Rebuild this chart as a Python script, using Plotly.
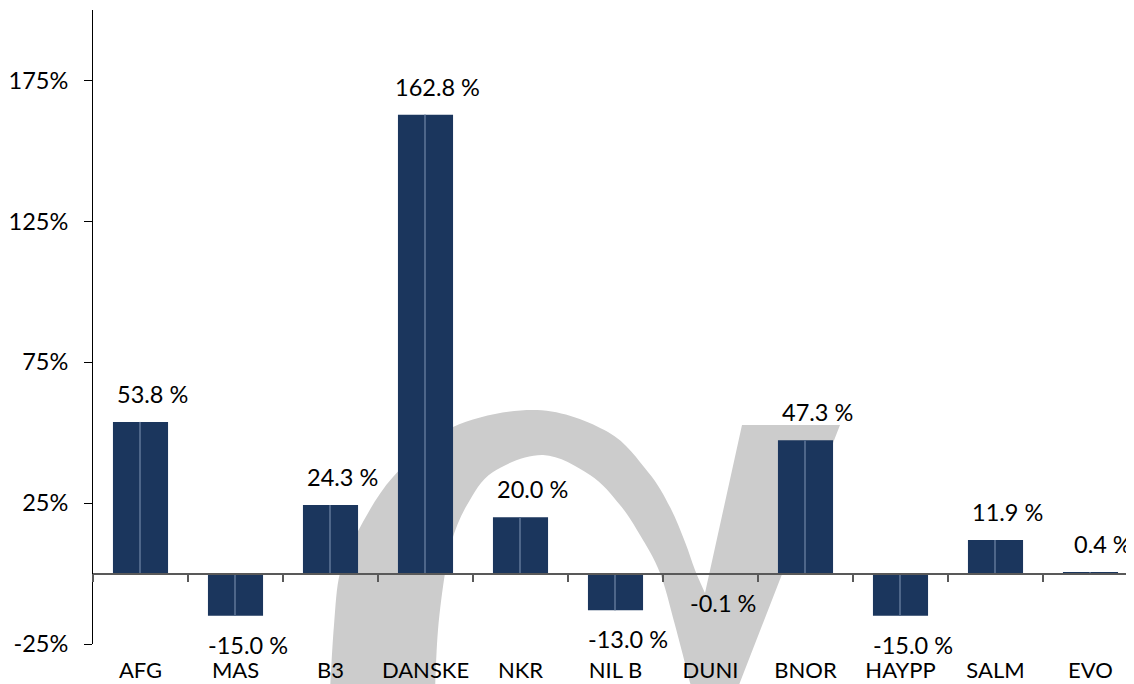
import plotly.graph_objects as go

# ---- data ----
categories = ["AFG", "MAS", "B3", "DANSKE", "NKR", "NIL B", "DUNI", "BNOR", "HAYPP", "SALM", "EVO"]
values = [53.8, -15.0, 24.3, 162.8, 20.0, -13.0, -0.1, 47.3, -15.0, 11.9, 0.4]
y_tick_values = [-25, 25, 75, 125, 175]
y_tick_labels = ["-25%", "25%", "75%", "125%", "175%"]

# page body adds an 8px offset; figure sized to fill the 1134x684 window
OFF = 8
W, H = 1134 - OFF, 684 - OFF
ML, MR, MT, MB = 93 - OFF, 0, 10 - OFF, 40
PW, PH = W - ML - MR, H - MT - MB
Y_MIN, Y_MAX = -25, 200
X_RANGE = [-0.5, -0.5 + PW / 95.0]

NAVY = "#1b365d"
SEAM = "#4e6689"
FONT = "Lato"

def px2paper(px, py):
    # px, py are window pixel positions
    return (px - OFF - ML) / PW, (H - MB - (py - OFF)) / PH

def smooth_path(pts, start=True):
    """Catmull-Rom through pts -> cubic bezier SVG commands (paper coords)."""
    P = [px2paper(*p) for p in pts]
    cmds = ["M %.5f %.5f" % P[0] if start else "L %.5f %.5f" % P[0]]
    for i in range(len(P) - 1):
        p0 = P[i - 1] if i > 0 else P[i]
        p1 = P[i]
        p2 = P[i + 1]
        p3 = P[i + 2] if i + 2 < len(P) else P[i + 1]
        c1 = (p1[0] + (p2[0] - p0[0]) / 6, p1[1] + (p2[1] - p0[1]) / 6)
        c2 = (p2[0] - (p3[0] - p1[0]) / 6, p2[1] - (p3[1] - p1[1]) / 6)
        cmds.append("C %.5f %.5f %.5f %.5f %.5f %.5f" % (c1 + c2 + p2))
    return " ".join(cmds)

# watermark logo outline (decorative, window pixel positions)
outer = [(330, 690), (334, 625), (340, 573), (357, 533), (393, 477), (453, 427),
         (537, 410), (608, 432), (648, 472), (670, 507), (685, 542), (695, 570), (705, 593)]
inner = [(692, 690), (675, 625), (660, 573), (640, 535), (620, 505), (590, 475),
         (543, 455), (493, 472), (467, 505), (452, 540), (445, 573), (438, 630), (435, 690)]
path = smooth_path(outer)
path += " L %.5f %.5f" % px2paper(742, 425)
path += " L %.5f %.5f" % px2paper(840, 425)
path += " L %.5f %.5f" % px2paper(737, 690)
path += " " + smooth_path(inner, start=False) + " Z"

fig = go.Figure()
fig.add_trace(go.Bar(x=categories, y=values, marker=dict(color=NAVY, line=dict(width=0)),
                     width=0.58, showlegend=False, hoverinfo="skip"))
fig.add_trace(go.Bar(x=categories, y=values, marker=dict(color=SEAM, line=dict(width=0)),
                     width=0.011, showlegend=False, hoverinfo="skip"))
# invisible trace to register the zero-line axis
fig.add_trace(go.Scatter(x=categories, y=[None] * len(categories), xaxis="x2",
                         mode="markers", showlegend=False, hoverinfo="skip"))

for c, v in zip(categories, values):
    fig.add_annotation(x=c, y=v, text=f"{v:.1f} %", showarrow=False,
                       xshift=12, yshift=28 if v >= 0 else -29, yanchor="middle",
                       font=dict(family=FONT, size=23.5, color="#000000"))

fig.add_shape(type="path", path=path, xref="paper", yref="paper",
              fillcolor="#cccccc", line=dict(width=0), layer="below")

fig.update_layout(
    width=W, height=H, autosize=False,
    margin=dict(l=ML, r=MR, t=MT, b=MB, pad=0),
    paper_bgcolor="white", plot_bgcolor="rgba(0,0,0,0)",
    barmode="overlay",
    font=dict(family=FONT, size=22, color="#000000"),
    xaxis=dict(type="category", categoryorder="array", categoryarray=categories,
               range=X_RANGE, showline=False, ticks="", showgrid=False, zeroline=False,
               ticklabelstandoff=11,
               tickfont=dict(family=FONT, size=22, color="#000000")),
    xaxis2=dict(type="category", categoryorder="array", categoryarray=categories,
                range=X_RANGE, overlaying="x", anchor="free",
                position=(0 - Y_MIN) / (Y_MAX - Y_MIN),
                showline=True, linecolor="#595959", linewidth=1.5,
                ticks="outside", tickson="boundaries", ticklen=8, tickwidth=1.5,
                tickcolor="#595959", showticklabels=False, showgrid=False, zeroline=False),
    yaxis=dict(range=[Y_MIN, Y_MAX], tickvals=y_tick_values, ticktext=y_tick_labels,
               ticks="outside", ticklen=8, tickcolor="#000000", tickwidth=1,
               showline=True, linecolor="#000000", linewidth=1,
               showgrid=False, zeroline=False, ticklabelstandoff=11,
               tickfont=dict(family=FONT, size=23.5, color="#000000")),
)

fig.write_html("out.html")
